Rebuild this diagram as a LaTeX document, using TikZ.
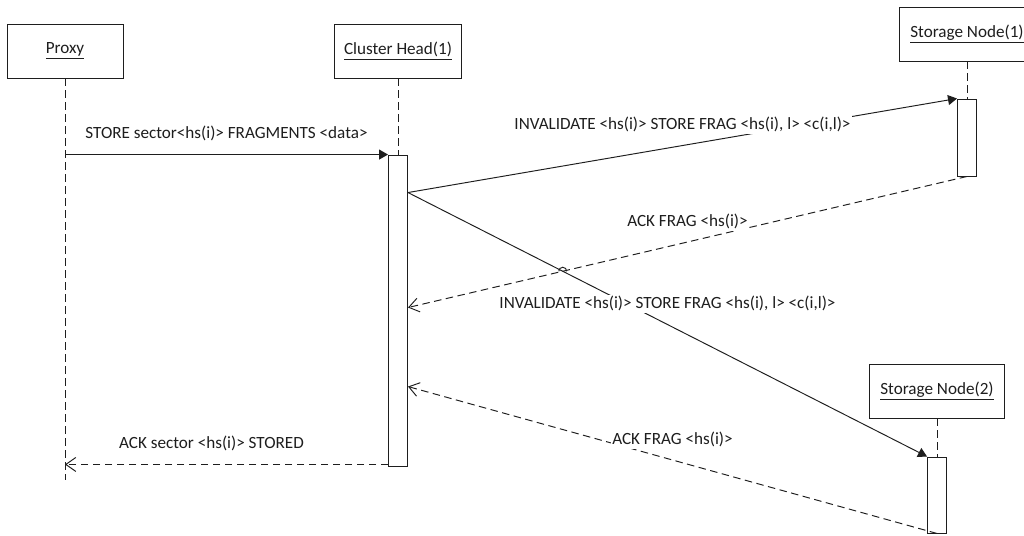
\documentclass[tikz,border=0pt]{standalone}
\usepackage{fontspec}
\setmainfont{Carlito}
\usepackage{tikz}
\usetikzlibrary{arrows.meta,positioning,calc,intersections}
\usepackage{xcolor}
\definecolor{lineblack}{RGB}{30,30,30}
\definecolor{textgrey}{RGB}{30,30,30}

\begin{document}
\begin{tikzpicture}[x=0.02cm, y=-0.02cm, font=\fontsize{9.75}{12}\selectfont, line width=0.55pt,
    actor/.style={draw=lineblack, fill=white, minimum height=1.08cm, inner sep=0pt, text=textgrey},
    actbar/.style={draw=lineblack, fill=white, minimum width=0.38cm, inner sep=0pt},
    lifeline/.style={lineblack, dash pattern=on 0.15cm off 0.09cm},
    callmsg/.style={lineblack, -{Triangle[length=0.18cm, width=0.2cm]}},
    replymsg/.style={lineblack, dash pattern=on 0.15cm off 0.09cm, -{Straight Barb[length=0.2cm, width=0.28cm]}},
    lbl/.style={fill=white, inner sep=1pt, text=textgrey}]
    \useasboundingbox (0,0) rectangle (1024,536);

    % Participants
    \node[actor, minimum width=2.32cm] (proxy) at (65,51) {\underline{Proxy}};
    \node[actor, minimum width=2.54cm] (chead) at (398,51) {\underline{Cluster Head(1)}};
    \node[actor, minimum width=2.72cm] (snone) at (967,34) {\underline{Storage Node(1)}};
    \node[actor, minimum width=2.7cm] (sntwo) at (937,391) {\underline{Storage Node(2)}};

    % Activation bars
    \node[actbar, minimum height=6.24cm] (chbar) at (398,311) {};
    \node[actbar, minimum height=1.54cm] (snonebar) at (967,137.5) {};
    \node[actbar, minimum height=1.52cm] (sntwobar) at (937,495) {};

    % Lifelines
    \draw[lifeline] (proxy.south) -- ++(0,402);
    \draw[lifeline] (chead.south) -- (chbar.north);
    \draw[lifeline] (snone.south) -- (snonebar.north);
    \draw[lifeline] (sntwo.south) -- (sntwobar.north);

    % Points on the cluster head bar
    \coordinate (fork) at ($(chbar.north east)+(0,38)$);
    \coordinate (ackonein) at ($(chbar.north east)+(0,153)$);
    \coordinate (acktwoin) at ($(chbar.north east)+(0,232)$);
    \coordinate (done) at ($(chbar.south west)+(0,-3)$);

    % Messages
    \draw[callmsg] (proxy.south |- chbar.north) -- (chbar.north west)
        node[lbl, midway, above=0.22cm] {STORE sector<hs(i)> FRAGMENTS <data>};
    \draw[callmsg] (fork) -- (snonebar.north west)
        node[lbl, midway, above=0.22cm] {INVALIDATE <hs(i)> STORE FRAG <hs(i), l> <c(i,l)>};
    \draw[replymsg, name path=ackone] (snonebar.south) -- (ackonein)
        node[lbl, midway, above=0.22cm] {ACK FRAG <hs(i)>};
    \draw[callmsg, name path=invtwo] (fork) -- (sntwobar.north west)
        node[lbl, midway, above=0.22cm] {INVALIDATE <hs(i)> STORE FRAG <hs(i), l> <c(i,l)>};
    \draw[replymsg] (sntwobar.south) -- (acktwoin)
        node[lbl, midway, above=0.22cm] {ACK FRAG <hs(i)>};
    \draw[replymsg] (done) -- (proxy.south |- done)
        node[lbl, midway, above=0.22cm, xshift=-0.3cm] {ACK sector <hs(i)> STORED};

    % Line jump where the two messages cross
    \path[name intersections={of=ackone and invtwo, by=hop}];
    \draw[lineblack] ([xshift=-0.08cm]hop) arc[start angle=180, end angle=0, radius=0.08cm];
\end{tikzpicture}
\end{document}
